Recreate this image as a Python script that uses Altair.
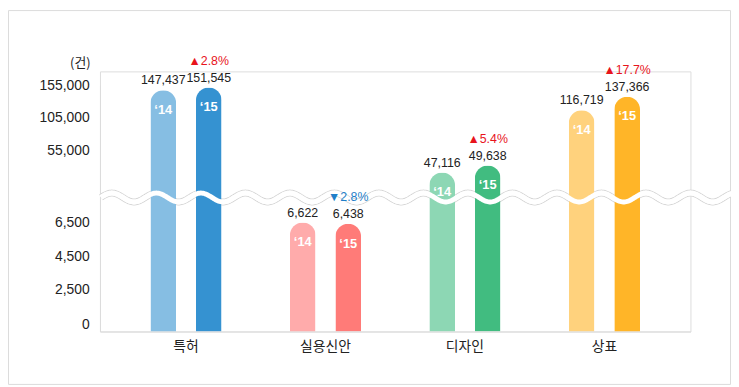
import altair as alt
import pandas as pd

categories = ["특허", "실용신안", "디자인", "상표"]
years = ["‘14", "‘15"]
values_2014 = [147437, 6622, 47116, 116719]
values_2015 = [151545, 6438, 49638, 137366]
change_labels = ["▲2.8%", "▼2.8%", "▲5.4%", "▲17.7%"]
change_up = [True, False, True, True]
colors_2014 = ["#86BEE3", "#FFABAB", "#8DD7B4", "#FFD27D"]
colors_2015 = ["#3592D1", "#FF7B78", "#41BC80", "#FFB528"]

y_ticks = [0, 2500, 4500, 6500, 55000, 105000, 155000]
# piecewise (broken) axis: the break hides roughly 6,500 - 39,000
y_domain = [0, 2500, 4500, 6500, 39000, 55000, 105000, 155000]
y_range = [263, 221, 187, 153, 125, 80, 47, 14]

rows = []
for i, c in enumerate(categories):
    rows.append({"cat": c, "year": years[0], "value": values_2014[i], "key": c + "14",
                 "change": "", "up": True})
    rows.append({"cat": c, "year": years[1], "value": values_2015[i], "key": c + "15",
                 "change": change_labels[i], "up": change_up[i]})
df = pd.DataFrame(rows)

key_domain = []
key_range = []
for i, c in enumerate(categories):
    key_domain += [c + "14", c + "15"]
    key_range += [colors_2014[i], colors_2015[i]]

W, H = 597, 263
FONT = "Liberation Sans, Noto Sans CJK KR"
KFONT = "Noto Sans CJK KR"

xscale = alt.Scale(domain=categories, paddingInner=0, paddingOuter=0.117)
xoff = alt.XOffset("year:N", scale=alt.Scale(domain=years, paddingInner=0.4348, paddingOuter=0.75))
yscale = alt.Scale(type="linear", domain=y_domain, range=y_range, nice=False, zero=False)

base = alt.Chart(df)

bars = base.mark_bar(cornerRadiusTopLeft=13, cornerRadiusTopRight=13).encode(
    x=alt.X("cat:N", scale=xscale, sort=categories,
            axis=alt.Axis(title=None, ticks=False, labelAngle=0, labelFont=KFONT,
                          labelFontSize=14, labelColor="#222", labelPadding=8,
                          domainColor="#dcdcdc", grid=False)),
    xOffset=xoff,
    y=alt.Y("value:Q", scale=yscale,
            axis=alt.Axis(values=y_ticks, labelExpr="format(datum.value, ',')",
                          ticks=False, grid=False,
                          domainColor="#dcdcdc", labelFont=FONT, labelFontSize=14,
                          labelColor="#222", labelPadding=11,
                          labelBaseline={"condition": {"test": "datum.value === 0", "value": "bottom"},
                                         "value": "middle"},
                          title="(건)", titleAngle=0, titleAlign="right",
                          titleBaseline="middle", titleX=-10, titleY=-9,
                          titleFont=KFONT, titleFontSize=13, titleFontWeight="normal",
                          titleColor="#222")),
    color=alt.Color("key:N", scale=alt.Scale(domain=key_domain, range=key_range), legend=None),
)

value_text = base.mark_text(dy=-10, fontSize=12.5, font=FONT, color="#222", baseline="middle").encode(
    x=alt.X("cat:N", scale=xscale, sort=categories, axis=None),
    xOffset=xoff,
    y=alt.Y("value:Q", scale=yscale, axis=None),
    text=alt.Text("value:Q", format=","),
)

year_text = base.mark_text(dy=20, fontSize=13, font=FONT, fontWeight="bold", color="white",
                           baseline="middle").encode(
    x=alt.X("cat:N", scale=xscale, sort=categories, axis=None),
    xOffset=xoff,
    y=alt.Y("value:Q", scale=yscale, axis=None),
    text="year:N",
)

change_text = base.transform_filter("datum.change != ''").mark_text(
    dy=-27, fontSize=12.5, font=FONT, baseline="middle").encode(
    x=alt.X("cat:N", scale=xscale, sort=categories, axis=None),
    xOffset=xoff,
    y=alt.Y("value:Q", scale=yscale, axis=None),
    text="change:N",
    color=alt.condition("datum.up", alt.value("#E8141C"), alt.value("#1F7FC9")),
)

wave_src = alt.Chart(alt.sequence(1, 640, 1, as_="px")).transform_calculate(
    py="127.5 - 4.5 * cos(2 * PI * (datum.px - 57) / 45)"
)
wx = alt.X("px:Q", scale=alt.Scale(domain=[0, W], nice=False, zero=False), axis=None)
wy = alt.Y("py:Q", scale=alt.Scale(domain=[0, H], range=[0, H], nice=False, zero=False), axis=None)

wave_gray = wave_src.mark_line(stroke="#d6d6d6", strokeWidth=7).encode(x=wx, y=wy)
wave_white_back = wave_src.mark_line(stroke="white", strokeWidth=5).encode(x=wx, y=wy)
wave_white_front = wave_src.mark_line(stroke="white", strokeWidth=5).encode(x=wx, y=wy)

frame = alt.Chart(pd.DataFrame({"a": [0]})).mark_rect(fill="transparent", stroke="#dcdcdc",
                                                       strokeWidth=1).encode(
    x=alt.value(-92.5), x2=alt.value(637.5), y=alt.value(-61.5), y2=alt.value(316.5)
)

chart = alt.layer(
    frame, wave_gray, wave_white_back, bars, wave_white_front, value_text, year_text, change_text
).resolve_scale(
    x="independent", y="independent"
).properties(
    width=W, height=H,
    autosize=alt.AutoSizeParams(type="none"),
    padding={"left": 93, "top": 62, "right": 41, "bottom": 54},
).configure_view(stroke=None).configure(background="white")

chart.save("out.html", embed_options={"renderer": "svg", "actions": False})
